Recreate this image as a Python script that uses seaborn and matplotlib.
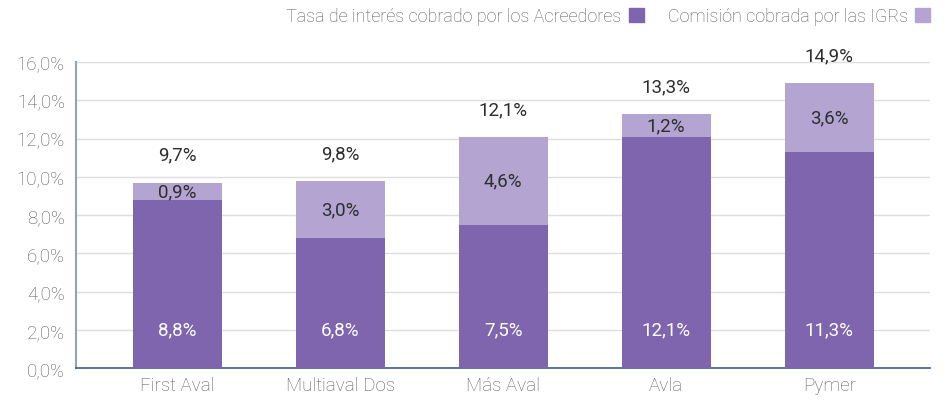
import pandas as pd
import matplotlib.pyplot as plt
import matplotlib.patches as mpatches
import seaborn as sns

entidades = ['First Aval', 'Multiaval Dos', 'Más Aval', 'Avla', 'Pymer']
tasa_acreedores = [8.8, 6.8, 7.5, 12.1, 11.3]
comision_igr = [0.9, 3.0, 4.6, 1.2, 3.6]
total_label = [9.7, 9.8, 12.1, 13.3, 14.9]
y_ticks = [0, 2, 4, 6, 8, 10, 12, 14, 16]

oscuro = '#7f65ad'
claro = '#b3a4d1'

sns.set_style('white')
plt.rcParams['font.family'] = ['Roboto', 'DejaVu Sans']

df = pd.DataFrame({'entidad': entidades,
                   'base': tasa_acreedores,
                   'extra': comision_igr})
df['total'] = df['base'] + df['extra']

def pct(v):
    return f'{v:.1f}%'.replace('.', ',')

fs = 13.5
fig = plt.figure(figsize=(9.44, 4.02), dpi=100)
ax = fig.add_axes([0.0805, 0.082, 0.905, 0.761])

sns.barplot(x='entidad', y='total', data=df, color=claro, width=0.545,
            saturation=1, linewidth=0, ax=ax, zorder=2)
sns.barplot(x='entidad', y='base', data=df, color=oscuro, width=0.545,
            saturation=1, linewidth=0, ax=ax, zorder=3)

# etiquetas de valores
for i, row in df.iterrows():
    ax.text(i, 2.0, pct(row['base']), ha='center', va='center',
            color='white', fontsize=fs, zorder=4)
    ax.text(i, row['base'] + row['extra'] / 2, pct(row['extra']),
            ha='center', va='center', color='#2e2e2e', fontsize=fs, zorder=4)
    ax.text(i, row['total'] + 1.45, pct(total_label[i]), ha='center',
            va='center', color='#2e2e2e', fontsize=fs)

ax.set_xlim(-0.62, 4.62)
ax.set_ylim(0, 16)
ax.set_yticks(y_ticks)
ax.set_yticklabels([pct(v) for v in y_ticks])
ax.set_xlabel('')
ax.set_ylabel('')
ax.tick_params(axis='both', length=0, labelsize=fs, labelcolor='#5a5a5a')
for t in ax.get_xticklabels() + ax.get_yticklabels():
    t.set_fontweight('light')
ax.tick_params(axis='x', pad=6)
ax.tick_params(axis='y', pad=8)
ax.yaxis.grid(True, color='#dedede', linewidth=1, zorder=0)
ax.set_axisbelow(True)

for s in ['top', 'right']:
    ax.spines[s].set_visible(False)
ax.spines['left'].set_color('#8fa5b5')
ax.spines['left'].set_linewidth(1.5)
ax.spines['bottom'].set_color('#3d5f85')
ax.spines['bottom'].set_linewidth(1.2)

handles = [mpatches.Patch(color=oscuro), mpatches.Patch(color=claro)]
labels = ['Tasa de interés cobrado por los Acreedores',
          'Comisión cobrada por las IGRs']
leg = ax.legend(handles, labels, ncol=2, markerfirst=False, frameon=False,
                loc='center right', bbox_to_anchor=(1.0, 1.15),
                fontsize=13, handlelength=0.85, handleheight=0.85,
                handletextpad=0.4, columnspacing=1.3, borderaxespad=0,
                borderpad=0)
for t in leg.get_texts():
    t.set_color('#5a5a5a')
    t.set_fontweight('light')

fig.savefig('out.png', dpi=100)
